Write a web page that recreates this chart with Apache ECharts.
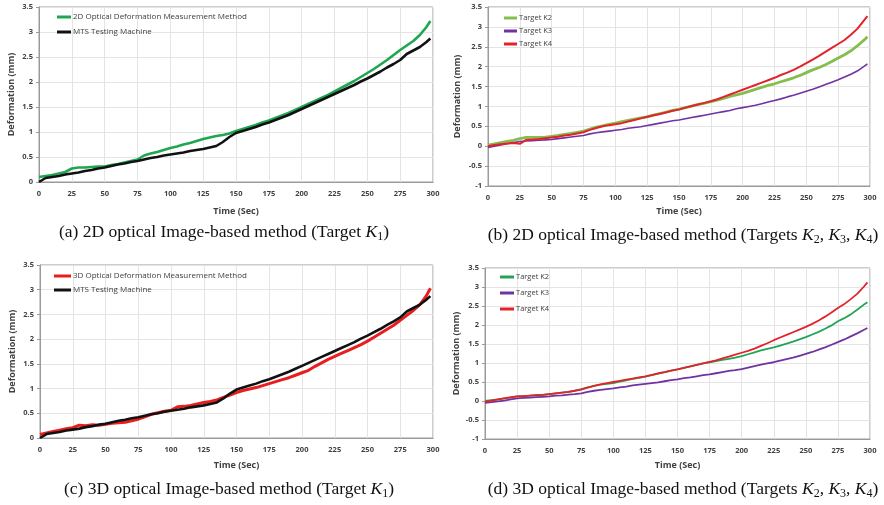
<!DOCTYPE html>
<html>
<head>
<meta charset="utf-8">
<script src="https://cdn.jsdelivr.net/npm/echarts@6/dist/echarts.min.js"></script>
<style>
  html, body { margin: 0; padding: 0; background: #fff; }
  #chart { width: 884px; height: 505px; }
</style>
</head>
<body>
<div id="chart"></div>
<script>
// time axis, every 5 s to the end of the test
const timeSec = [0, 5, 10, 15, 20, 25, 30, 35, 40, 45, 50, 55, 60, 65, 70, 75, 80, 85, 90, 95,
  100, 105, 110, 115, 120, 125, 130, 135, 140, 145, 150, 155, 160, 165, 170, 175, 180, 185, 190, 195,
  200, 205, 210, 215, 220, 225, 230, 235, 240, 245, 250, 255, 260, 265, 270, 275, 280, 285, 290, 295, 298]

// (a) 2D optical, target K1
const opt2dK1 = [0.10, 0.12, 0.14, 0.17, 0.20, 0.27, 0.29, 0.29, 0.30, 0.31, 0.31, 0.34, 0.36, 0.39, 0.42, 0.45, 0.53, 0.57, 0.60, 0.64,
  0.68, 0.71, 0.75, 0.78, 0.82, 0.86, 0.89, 0.92, 0.94, 0.97, 1.02, 1.06, 1.10, 1.14, 1.19, 1.23, 1.28, 1.33, 1.38, 1.44,
  1.50, 1.56, 1.62, 1.68, 1.74, 1.81, 1.88, 1.95, 2.02, 2.10, 2.18, 2.26, 2.35, 2.44, 2.54, 2.64, 2.73, 2.82, 2.94, 3.10, 3.22]

// MTS testing machine (same record in (a) and (c))
const mts = [0.00, 0.08, 0.10, 0.12, 0.15, 0.17, 0.19, 0.22, 0.24, 0.27, 0.29, 0.32, 0.35, 0.37, 0.40, 0.42, 0.45, 0.48, 0.50, 0.53,
  0.55, 0.57, 0.59, 0.62, 0.64, 0.66, 0.69, 0.72, 0.80, 0.90, 0.98, 1.02, 1.06, 1.10, 1.15, 1.19, 1.24, 1.29, 1.34, 1.40,
  1.46, 1.52, 1.58, 1.64, 1.70, 1.76, 1.82, 1.88, 1.94, 2.01, 2.07, 2.14, 2.21, 2.29, 2.36, 2.44, 2.56, 2.63, 2.70, 2.80, 2.87]

// (b) 2D optical, targets K2 K3 K4
const opt2dK2 = [0.03, 0.06, 0.09, 0.12, 0.15, 0.19, 0.22, 0.22, 0.22, 0.23, 0.25, 0.27, 0.30, 0.32, 0.35, 0.38, 0.43, 0.48, 0.51, 0.55,
  0.58, 0.62, 0.65, 0.68, 0.71, 0.74, 0.78, 0.82, 0.86, 0.90, 0.93, 0.97, 1.01, 1.05, 1.08, 1.12, 1.16, 1.20, 1.25, 1.29,
  1.33, 1.38, 1.43, 1.48, 1.53, 1.57, 1.62, 1.67, 1.72, 1.78, 1.85, 1.92, 1.98, 2.05, 2.13, 2.22, 2.30, 2.40, 2.52, 2.66, 2.75]
const opt2dK3 = [-0.03, 0.00, 0.03, 0.06, 0.09, 0.12, 0.13, 0.14, 0.15, 0.16, 0.17, 0.19, 0.21, 0.23, 0.25, 0.27, 0.31, 0.34, 0.36, 0.38,
  0.40, 0.42, 0.45, 0.47, 0.49, 0.52, 0.55, 0.58, 0.61, 0.64, 0.66, 0.69, 0.72, 0.75, 0.78, 0.81, 0.84, 0.87, 0.90, 0.94,
  0.97, 1.00, 1.03, 1.07, 1.11, 1.15, 1.19, 1.24, 1.28, 1.33, 1.38, 1.43, 1.49, 1.55, 1.61, 1.67, 1.74, 1.81, 1.89, 2.00, 2.07]
const opt2dK4 = [0.00, 0.03, 0.05, 0.07, 0.08, 0.06, 0.16, 0.17, 0.18, 0.20, 0.22, 0.24, 0.27, 0.29, 0.32, 0.35, 0.41, 0.46, 0.50, 0.53,
  0.55, 0.58, 0.62, 0.66, 0.70, 0.74, 0.78, 0.81, 0.85, 0.89, 0.92, 0.97, 1.01, 1.05, 1.09, 1.13, 1.18, 1.24, 1.30, 1.36,
  1.42, 1.48, 1.54, 1.60, 1.66, 1.72, 1.79, 1.85, 1.92, 2.00, 2.09, 2.18, 2.27, 2.37, 2.47, 2.57, 2.67, 2.80, 2.95, 3.15, 3.27]

// (c) 3D optical, target K1
const opt3dK1 = [0.07, 0.10, 0.13, 0.16, 0.19, 0.21, 0.26, 0.25, 0.27, 0.26, 0.28, 0.30, 0.31, 0.32, 0.35, 0.38, 0.43, 0.48, 0.51, 0.54,
  0.56, 0.63, 0.64, 0.66, 0.69, 0.72, 0.74, 0.77, 0.82, 0.87, 0.92, 0.96, 0.99, 1.02, 1.06, 1.10, 1.14, 1.18, 1.22, 1.27,
  1.32, 1.37, 1.45, 1.52, 1.59, 1.65, 1.71, 1.77, 1.83, 1.89, 1.96, 2.04, 2.12, 2.20, 2.28, 2.38, 2.48, 2.58, 2.70, 2.88, 3.03]

// (d) 3D optical, targets K2 K3 K4
const opt3dK2 = [0.00, 0.02, 0.04, 0.07, 0.09, 0.12, 0.13, 0.14, 0.16, 0.16, 0.18, 0.20, 0.22, 0.24, 0.27, 0.31, 0.36, 0.40, 0.43, 0.45,
  0.47, 0.51, 0.54, 0.58, 0.61, 0.64, 0.68, 0.72, 0.76, 0.80, 0.83, 0.87, 0.91, 0.95, 0.99, 1.02, 1.05, 1.08, 1.11, 1.14,
  1.18, 1.23, 1.28, 1.33, 1.37, 1.41, 1.46, 1.51, 1.56, 1.62, 1.68, 1.75, 1.82, 1.90, 1.99, 2.10, 2.18, 2.28, 2.40, 2.53, 2.60]
const opt3dK3 = [-0.05, -0.03, -0.01, 0.01, 0.04, 0.07, 0.08, 0.09, 0.10, 0.11, 0.12, 0.14, 0.15, 0.17, 0.18, 0.20, 0.24, 0.27, 0.29, 0.31,
  0.33, 0.36, 0.38, 0.41, 0.43, 0.45, 0.47, 0.49, 0.52, 0.55, 0.57, 0.60, 0.62, 0.65, 0.68, 0.70, 0.73, 0.76, 0.79, 0.81,
  0.84, 0.88, 0.92, 0.96, 0.99, 1.02, 1.06, 1.10, 1.14, 1.19, 1.24, 1.29, 1.35, 1.41, 1.48, 1.55, 1.62, 1.70, 1.78, 1.87, 1.92]
const opt3dK4 = [-0.02, 0.01, 0.04, 0.07, 0.10, 0.12, 0.13, 0.14, 0.15, 0.16, 0.18, 0.20, 0.22, 0.24, 0.27, 0.30, 0.35, 0.40, 0.44, 0.47,
  0.50, 0.53, 0.56, 0.59, 0.62, 0.65, 0.69, 0.73, 0.76, 0.80, 0.83, 0.87, 0.91, 0.95, 0.99, 1.03, 1.07, 1.12, 1.17, 1.22,
  1.27, 1.32, 1.38, 1.45, 1.52, 1.60, 1.67, 1.74, 1.81, 1.88, 1.95, 2.03, 2.12, 2.22, 2.33, 2.45, 2.55, 2.68, 2.82, 3.00, 3.12]

const captions = [
  '(a) 2D optical Image-based method (Target {i|K}{s|1})',
  '(b) 2D optical Image-based method (Targets {i|K}{s|2}, {i|K}{s|3}, {i|K}{s|4})',
  '(c) 3D optical Image-based method (Target {i|K}{s|1})',
  '(d) 3D optical Image-based method (Targets {i|K}{s|2}, {i|K}{s|3}, {i|K}{s|4})'
]

const tickFont = { color: '#404040', fontFamily: 'Open Sans', fontWeight: 'bold', fontSize: 7.5 }
const nameFont = { color: '#404040', fontFamily: 'Open Sans', fontWeight: 'bold', fontSize: 9 }
const gridBox = [
  { left: 39, top: 7, width: 394, height: 175 },
  { left: 488, top: 7, width: 382, height: 179 },
  { left: 40, top: 265, width: 393, height: 173 },
  { left: 485, top: 268, width: 385, height: 171 }
]
const yMin = [0, -1, 0, -1]
const yNameGap = [23, 26, 23, 24]
const xNameGap = [25, 21, 23, 22]

function pairs (vals) {
  return timeSec.map((t, i) => [t, vals[i]])
}

function xAxisFor (i) {
  return {
    gridIndex: i, type: 'value', min: 0, max: 300, interval: 25,
    name: 'Time (Sec)', nameLocation: 'middle', nameGap: xNameGap[i],
    nameTextStyle: nameFont,
    axisLine: { onZero: false, lineStyle: { color: '#9a9a9a' } },
    axisTick: { show: false },
    axisLabel: Object.assign({ margin: 8 }, tickFont),
    splitLine: { show: true, lineStyle: { color: '#e4e4e4', width: 1 } }
  }
}

function yAxisFor (i) {
  return {
    gridIndex: i, type: 'value', min: yMin[i], max: 3.5, interval: 0.5,
    name: 'Deformation (mm)', nameLocation: 'middle', nameGap: yNameGap[i],
    nameTextStyle: nameFont,
    axisLine: { show: true, lineStyle: { color: '#9a9a9a' } },
    axisTick: { show: true, length: 3, lineStyle: { color: '#9a9a9a' } },
    axisLabel: Object.assign({ margin: 6 }, tickFont),
    splitLine: { show: true, lineStyle: { color: '#e4e4e4', width: 1 } }
  }
}

function line (name, i, vals, color, width) {
  return {
    name: name, type: 'line', xAxisIndex: i, yAxisIndex: i,
    data: pairs(vals), showSymbol: false, symbol: 'none', silent: true,
    lineStyle: { color: color, width: width }, itemStyle: { color: color }
  }
}

function legendFor (names, left, top, gap, w, size) {
  return {
    orient: 'vertical', left: left, top: top, itemGap: gap,
    icon: 'rect', itemWidth: w, itemHeight: 3,
    textStyle: { color: '#404040', fontFamily: 'Open Sans', fontSize: size, lineHeight: 10, padding: [0, 0, 0, -3] },
    data: names
  }
}

const chart = echarts.init(document.getElementById('chart'))

const option = {
  backgroundColor: '#fff',
  animation: false,
  grid: gridBox.map(g => Object.assign({ show: true, borderColor: '#9a9a9a', borderWidth: 1, containLabel: false }, g)),
  xAxis: [0, 1, 2, 3].map(xAxisFor),
  yAxis: [0, 1, 2, 3].map(yAxisFor),
  legend: [
    legendFor(['2D Optical Deformation Measurement Method', 'MTS Testing Machine'], 52, 7, 5, 14, 8),
    legendFor(['Target K2', 'Target K3', 'Target K4'], 499, 8, 3, 13, 7.5),
    legendFor(['3D Optical Deformation Measurement Method', 'MTS Testing Machine '], 49, 266, 4, 17, 8),
    legendFor(['Target K2 ', 'Target K3 ', 'Target K4 '], 495, 267, 6, 14, 7.5)
  ],
  series: [
    line('2D Optical Deformation Measurement Method', 0, opt2dK1, '#1ea650', 2.6),
    line('MTS Testing Machine', 0, mts, '#111111', 2.6),
    line('Target K2', 1, opt2dK2, '#86bd4f', 2.8),
    line('Target K3', 1, opt2dK3, '#7133a0', 1.6),
    line('Target K4', 1, opt2dK4, '#e3222a', 2),
    line('3D Optical Deformation Measurement Method', 2, opt3dK1, '#e81e1e', 3),
    line('MTS Testing Machine ', 2, mts, '#111111', 2.6),
    line('Target K2 ', 3, opt3dK2, '#22a457', 1.8),
    line('Target K3 ', 3, opt3dK3, '#7133a0', 1.8),
    line('Target K4 ', 3, opt3dK4, '#e3222a', 1.8)
  ],
  graphic: [
    [224, 232], [683, 235], [229, 489], [683, 489]
  ].map((p, i) => ({
    type: 'text', x: p[0], y: p[1],
    style: {
      text: captions[i], align: 'center', verticalAlign: 'middle',
      fill: '#111', fontFamily: 'Liberation Serif', fontSize: 17.5,
      rich: {
        i: { fontFamily: 'Liberation Serif', fontStyle: 'italic', fontSize: 17.5, fill: '#111', lineHeight: 22 },
        s: { fontFamily: 'Liberation Serif', fontSize: 12, fill: '#111', verticalAlign: 'bottom', lineHeight: 14 }
      }
    }
  }))
}

chart.setOption(option)
</script>
</body>
</html>
